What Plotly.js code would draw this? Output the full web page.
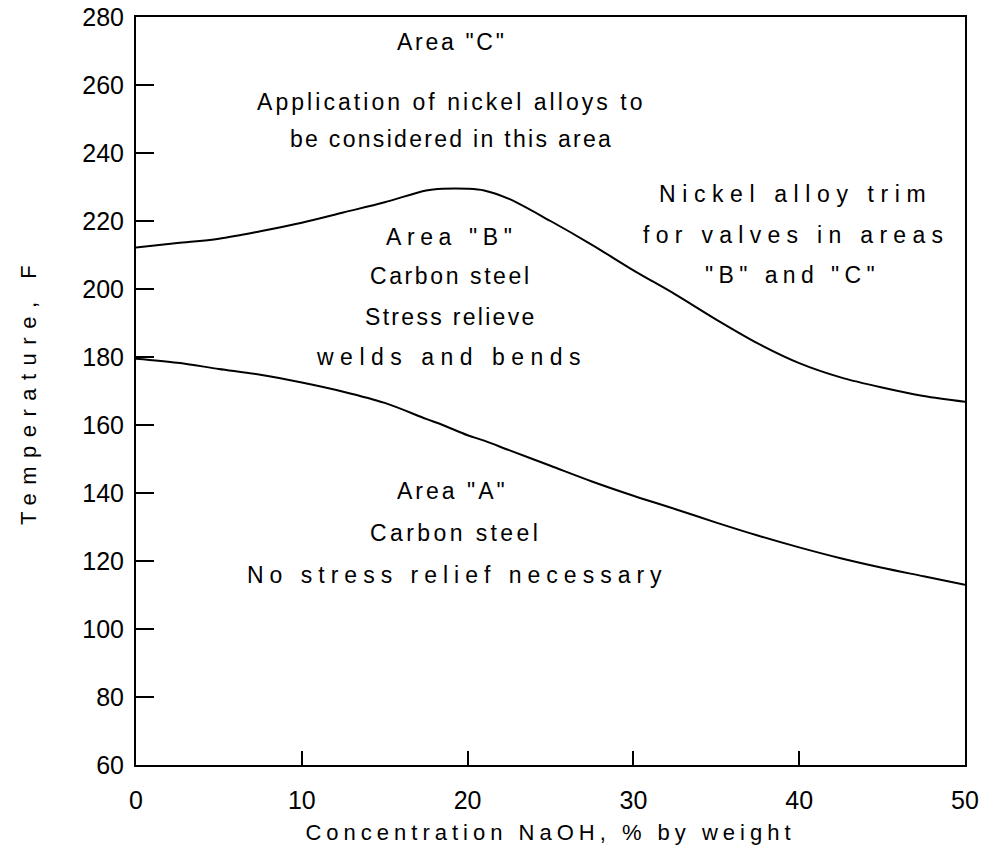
<!DOCTYPE html>
<html>
<head>
<meta charset="utf-8">
<script src="https://cdn.plot.ly/plotly-3.0.1.min.js"></script>
<style>
  html, body { margin: 0; padding: 0; background: #fff; }
  #chart { width: 984px; height: 861px; }
  .xtitle { letter-spacing: 5px; }
  .ytitle { letter-spacing: 8.5px; }
</style>
</head>
<body>
<div id="chart"></div>
<script>
// NaOH concentration, % by weight
const concentration = [0, 2.5, 5, 7.5, 10, 12.5, 15, 17.5, 18.5, 20, 21, 22.5, 25, 27.5, 30, 32.5, 35, 37.5, 40, 42.5, 45, 47.5, 50];

// Upper limit of Area "B" (boundary with Area "C"), deg F
const upperLimitF = [212.2, 213.5, 214.8, 217, 219.5, 222.5, 225.5, 229, 229.5, 229.5, 229, 226.5, 220, 213, 205.5, 198.5, 191, 184, 178.2, 174, 171, 168.5, 166.8];

// Upper limit of Area "A" (boundary with Area "B"), deg F
const lowerLimitF = [179.5, 178.3, 176.5, 174.8, 172.5, 169.8, 166.5, 161.8, 160, 157, 155.4, 152.6, 148, 143.4, 139.2, 135.3, 131.3, 127.5, 124, 120.8, 118, 115.5, 113];

const xTicks = [0, 10, 20, 30, 40, 50];
const yTicks = [60, 80, 100, 120, 140, 160, 180, 200, 220, 240, 260, 280];

const font = "'Liberation Sans', Arial, sans-serif";

const curveStyle = { color: '#000', width: 2, shape: 'spline', smoothing: 0.9 };

const traces = [
  { x: concentration, y: upperLimitF, mode: 'lines', line: curveStyle, hoverinfo: 'skip' },
  { x: concentration, y: lowerLimitF, mode: 'lines', line: curveStyle, hoverinfo: 'skip' }
];

// Region label line, centred on (x, y) with its own letter spacing
function note(text, x, y, spacing) {
  return { text: '<span style="letter-spacing:' + spacing + 'px">' + text + '</span>',
           x: x, y: y, xref: 'x', yref: 'y', showarrow: false,
           xanchor: 'center', yanchor: 'middle',
           font: { family: font, size: 23, color: '#000' } };
}

const layout = {
  width: 984, height: 861,
  margin: { l: 136, r: 19, t: 17, b: 96 },
  paper_bgcolor: '#fff', plot_bgcolor: '#fff',
  showlegend: false,
  font: { family: font, color: '#000' },
  xaxis: {
    range: [0, 50], tickvals: xTicks, ticktext: xTicks.map(String),
    ticks: 'inside', ticklen: 14, tickwidth: 2, tickcolor: '#000',
    showline: true, linewidth: 2, linecolor: '#000', mirror: true,
    showgrid: false, zeroline: false,
    tickfont: { family: font, size: 25, color: '#000' },
    ticklabelstandoff: 12,
    title: { text: 'Concentration NaOH, % by weight', font: { family: font, size: 22, color: '#000' }, standoff: 12 }
  },
  yaxis: {
    range: [60, 280], tickvals: yTicks, ticktext: yTicks.map(String),
    ticks: 'inside', ticklen: 18, tickwidth: 2, tickcolor: '#000',
    showline: true, linewidth: 2, linecolor: '#000', mirror: true,
    showgrid: false, zeroline: false,
    tickfont: { family: font, size: 25, color: '#000' },
    ticklabelstandoff: 5,
    title: { text: 'Temperature, F', font: { family: font, size: 22, color: '#000' }, standoff: 40 }
  },
  annotations: [
    note('Area "C"', 19.06, 272.7, 2.7),
    note('Application of nickel alloys to', 19.0, 255, 3.05),
    note('be considered in this area', 19.0, 244.1, 2.3),
    note('Area "B"', 19.0, 215.2, 5.6),
    note('Carbon steel', 19.0, 203.7, 2.6),
    note('Stress relieve', 19.0, 191.9, 2.3),
    note('welds and bends', 19.0, 180.1, 6.5),
    note('Nickel alloy trim', 39.75, 227.8, 6.6),
    note('for valves in areas', 39.8, 215.9, 6.3),
    note('"B" and "C"', 39.6, 204.1, 5.4),
    note('Area "A"', 19.1, 140.5, 3),
    note('Carbon steel', 19.3, 128.1, 3.4),
    note('No stress relief necessary', 19.4, 115.8, 6)
  ]
};

Plotly.newPlot('chart', traces, layout, { staticPlot: true, displayModeBar: false });
</script>
</body>
</html>
